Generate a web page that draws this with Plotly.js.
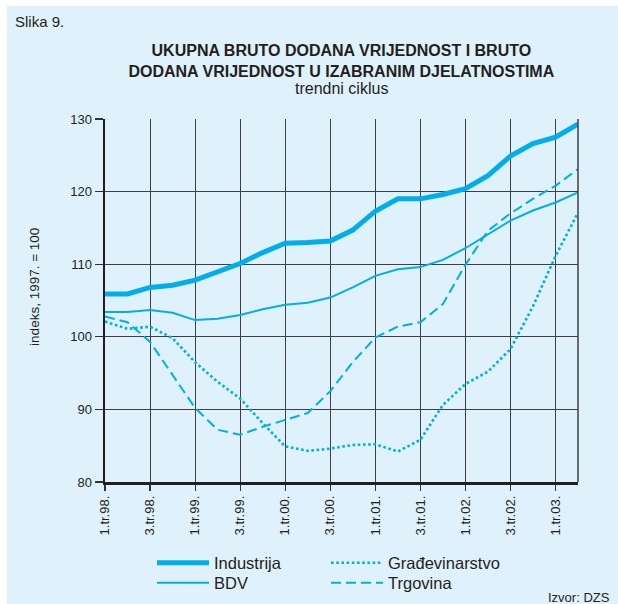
<!DOCTYPE html>
<html>
<head>
<meta charset="utf-8">
<script src="https://cdn.plot.ly/plotly-3.0.1.min.js"></script>
<style>
  html, body { margin: 0; padding: 0; background: #ffffff; }
  #chart { position: absolute; left: 7px; top: 6px; width: 611px; height: 598px; }
</style>
</head>
<body>
<div id="chart"></div>
<script>
// Quarter labels (1.tr.98. .. 2.tr.03.)
const quarters = [
  "1.tr.98.","2.tr.98.","3.tr.98.","4.tr.98.",
  "1.tr.99.","2.tr.99.","3.tr.99.","4.tr.99.",
  "1.tr.00.","2.tr.00.","3.tr.00.","4.tr.00.",
  "1.tr.01.","2.tr.01.","3.tr.01.","4.tr.01.",
  "1.tr.02.","2.tr.02.","3.tr.02.","4.tr.02.",
  "1.tr.03.","2.tr.03."
];
const tickLabels = ["1.tr.98.","3.tr.98.","1.tr.99.","3.tr.99.","1.tr.00.","3.tr.00.",
                    "1.tr.01.","3.tr.01.","1.tr.02.","3.tr.02.","1.tr.03."];

const industrija = [105.9,105.9,106.8,107.1,107.8,108.9,110.1,111.6,112.9,113.0,113.2,
                    114.7,117.3,119.0,119.0,119.6,120.4,122.2,124.9,126.6,127.5,129.3];
const bdv = [103.4,103.4,103.7,103.3,102.3,102.5,103.0,103.8,104.4,104.7,105.4,
             106.8,108.4,109.3,109.6,110.6,112.2,114.1,116.0,117.4,118.5,119.9];
const gradjevinarstvo = [102.1,101.1,101.4,99.8,96.5,93.8,91.5,88.1,84.9,84.3,84.6,
                         85.1,85.2,84.2,85.8,90.6,93.5,95.2,98.3,104.2,111.1,117.1];
const trgovina = [102.8,102.0,99.3,94.8,90.2,87.2,86.5,87.6,88.6,89.5,92.5,
                  96.5,99.9,101.4,102.0,104.5,109.9,114.6,117.0,119.0,120.8,123.1];

const names = ["Industrija","BDV","Građevinarstvo","Trgovina"];

const BLUE = "#00aeef";
const BG = "#dff1fa";
const TXT = "#231f20";
const FONT = "Liberation Sans, Arial, sans-serif";

// layout geometry (div coords)
const W = 611, H = 598;
const M = {l: 98, r: 39.7, t: 113.3, b: 122, autoexpand: false};
const plotW = W - M.l - M.r, plotH = H - M.t - M.b;
function px(xAbs) { return (xAbs - 7 - M.l) / plotW; }
function py(yAbs) { return (H - M.b - (yAbs - 6)) / plotH; }
function cx(xAbs) { return (xAbs - 7) / W; }
function cy(yAbs) { return 1 - (yAbs - 6) / H; }

const traces = [
  {x: quarters, y: industrija, name: names[0], type: "scatter", mode: "lines",
   line: {color: BLUE, width: 5}, legend: "legend"},
  {x: quarters, y: bdv, name: names[1], type: "scatter", mode: "lines",
   line: {color: BLUE, width: 2}, legend: "legend2"},
  {x: quarters, y: gradjevinarstvo, name: names[2], type: "scatter", mode: "lines",
   line: {color: BLUE, width: 2.6, dash: "2.6px,2.6px"}, legend: "legend3"},
  {x: quarters, y: trgovina, name: names[3], type: "scatter", mode: "lines",
   line: {color: BLUE, width: 2, dash: "10px,5px"}, legend: "legend4"}
];

function leg(xAbs, yAbs) {
  return {
    orientation: "v", bgcolor: "rgba(0,0,0,0)", borderwidth: 0,
    font: {family: FONT, size: 16.5, color: TXT},
    itemwidth: 52, xref: "container", yref: "container",
    x: cx(xAbs), y: cy(yAbs), xanchor: "left", yanchor: "middle"
  };
}

const layout = {
  width: W, height: H,
  margin: M,
  paper_bgcolor: BG, plot_bgcolor: BG,
  font: {family: FONT, color: TXT},
  showlegend: true,
  title: {
    text: "<b>UKUPNA BRUTO DODANA VRIJEDNOST I BRUTO</b><br><b>DODANA VRIJEDNOST U IZABRANIM DJELATNOSTIMA</b>",
    font: {family: FONT, size: 16, color: TXT},
    x: px(341.5), xref: "paper", xanchor: "center",
    y: cy(56), yref: "container", yanchor: "top"
  },
  xaxis: {
    type: "category", range: [0, quarters.length - 1],
    tickmode: "array", tickvals: tickLabels, ticktext: tickLabels,
    tickangle: -90, ticks: "outside", ticklen: 6, tickwidth: 1.2, tickcolor: "#333",
    tickfont: {family: FONT, size: 13, color: TXT},
    showgrid: true, gridcolor: "#404040", gridwidth: 1.1,
    showline: true, linecolor: "#231f20", linewidth: 2.5, zeroline: false,
    fixedrange: true, automargin: false
  },
  yaxis: {
    range: [80, 130], dtick: 10, tick0: 80,
    ticks: "outside", ticklen: 8, tickwidth: 1.2, tickcolor: "#333",
    tickfont: {family: FONT, size: 13, color: TXT},
    showgrid: true, gridcolor: "#404040", gridwidth: 1.1,
    showline: true, linecolor: "#231f20", linewidth: 2.5, zeroline: false,
    fixedrange: true, automargin: false
  },
  legend: leg(152, 563),
  legend2: leg(152, 583),
  legend3: leg(326, 563),
  legend4: leg(326, 583),
  shapes: [
    {type: "line", xref: "paper", yref: "paper", x0: 1, x1: 1, y0: 0, y1: 1,
     line: {color: "#404040", width: 1.5}}
  ],
  annotations: [
    {text: "Slika 9.", xref: "paper", yref: "paper", x: px(13), y: py(22),
     xanchor: "left", yanchor: "middle", showarrow: false,
     font: {family: FONT, size: 15, color: TXT}},
    {text: "trendni ciklus", xref: "paper", yref: "paper", x: px(341.5), y: py(89),
     xanchor: "center", yanchor: "middle", showarrow: false,
     font: {family: FONT, size: 16, color: TXT}},
    {text: "indeks, 1997. = 100", xref: "paper", yref: "paper", x: px(35), y: py(287),
     xanchor: "center", yanchor: "middle", textangle: -90, showarrow: false,
     font: {family: FONT, size: 13.5, color: TXT}},
    {text: "Izvor: DZS", xref: "paper", yref: "paper", x: px(612), y: py(597),
     xanchor: "right", yanchor: "middle", showarrow: false,
     font: {family: FONT, size: 13, color: TXT}}
  ]
};

Plotly.newPlot("chart", traces, layout, {displayModeBar: false, staticPlot: true});
</script>
</body>
</html>
